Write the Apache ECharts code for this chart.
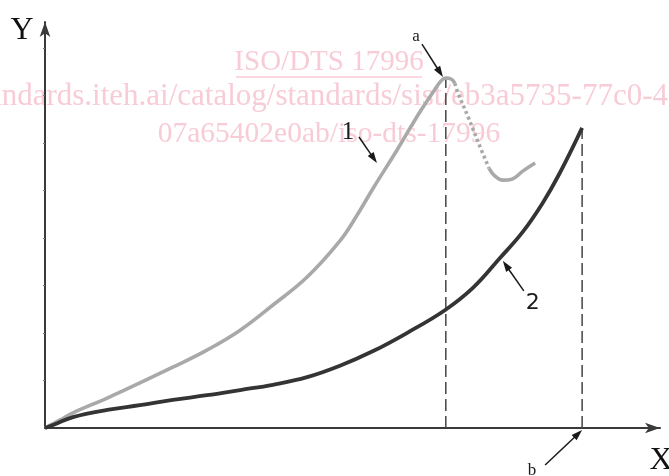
<!DOCTYPE html>
<html>
<head>
<meta charset="utf-8">
<script src="https://cdn.jsdelivr.net/npm/echarts@6/dist/echarts.min.js"></script>
<style>
  html, body { margin: 0; padding: 0; background: #ffffff; }
  #chart { width: 669px; height: 476px; }
</style>
</head>
<body>
<div id="chart"></div>
<script>
// Curve 1: rises to a peak, drops (dotted), then recovers slightly
const curve1Rise = [[0, 0], [0.32, 0.17], [0.59, 0.32], [1.31, 0.63], [2.00, 0.95], [2.69, 1.28],
  [3.41, 1.64], [4.11, 2.06], [4.80, 2.59], [5.52, 3.18], [6.21, 3.94], [6.57, 4.48], [6.91, 5.05],
  [7.41, 5.85], [7.89, 6.65], [8.17, 7.07], [8.34, 7.31], [8.44, 7.37], [8.55, 7.35], [8.63, 7.26]];
const curve1Drop = [[8.63, 7.26], [8.69, 7.07], [8.91, 6.55], [9.12, 6.02], [9.35, 5.47]];
const curve1Tail = [[9.35, 5.47], [9.47, 5.31], [9.64, 5.22], [9.83, 5.24], [10.06, 5.41], [10.32, 5.58]];

// Curve 2: slow start, steep finish
const curve2 = [[0, 0], [0.21, 0.08], [0.59, 0.23], [1.31, 0.38], [2.00, 0.48], [2.69, 0.59],
  [3.41, 0.69], [4.11, 0.80], [4.80, 0.91], [5.52, 1.07], [6.21, 1.31], [6.91, 1.62], [7.62, 2.00],
  [8.42, 2.48], [9.01, 2.95], [9.58, 3.58], [10.06, 4.13], [10.48, 4.74], [10.84, 5.37], [11.31, 6.32]];

const yTicks = [1, 2, 3, 4, 5, 6, 7, 8];
const xMax = 12.95;
const yMax = 8.55;

// Pointer tips in data units; tail and label offsets in pixels
const pointers = [
  { text: 'a', tip: [8.38, 7.39], tail: [-21, -33], label: [-27, -41], font: 'Liberation Serif', size: 17 },
  { text: '1', tip: [6.99, 5.58], tail: [-18, -26], label: [-29, -31], font: 'Liberation Serif', size: 25 },
  { text: '2', tip: [9.64, 3.52], tail: [21, 30], label: [30, 42], font: 'DejaVu Sans', size: 22 },
  { text: 'b', tip: [11.31, 0], tail: [-37, 35], label: [-50, 41], font: 'Liberation Serif', size: 17, dy: 2 }
];

const peak = curve1Rise.reduce((m, p) => (p[1] > m[1] ? p : m), curve1Rise[0]);
const curve2End = curve2[curve2.length - 1];

const AXIS = '#3a3a3a';
const LIGHT = '#a9a9a9';
const DARK = '#343434';

const chart = echarts.init(document.getElementById('chart'), null, { renderer: 'canvas' });

const curveSeries = (data, color, width, dash, z) => ({
  type: 'line', data: data, symbol: 'none', smooth: 0.4, z: z,
  lineStyle: { color: color, width: width, type: dash || 'solid', cap: 'butt' }
});

const option = {
  animation: false,
  backgroundColor: '#ffffff',
  grid: { left: 45, right: 9, top: 22, bottom: 48, containLabel: false },
  xAxis: {
    type: 'value', min: 0, max: xMax,
    axisLine: { show: true, onZero: false, symbol: ['none', 'arrow'], symbolSize: [8, 15],
      lineStyle: { color: AXIS, width: 2 } },
    axisTick: { show: false }, axisLabel: { show: false }, splitLine: { show: false }
  },
  yAxis: {
    type: 'value', min: 0, max: yMax,
    axisLine: { show: true, onZero: false, symbol: ['none', 'arrow'], symbolSize: [8, 15],
      lineStyle: { color: AXIS, width: 2 } },
    axisTick: { show: true, customValues: yTicks, length: 2, lineStyle: { color: '#777', width: 1 } },
    axisLabel: { show: false }, splitLine: { show: false }
  },
  series: [
    {
      type: 'line', data: [[peak[0], 0], [peak[0], peak[1]]], symbol: 'none', z: 1,
      lineStyle: { color: '#444', width: 1.5, type: [12, 5] }
    },
    {
      type: 'line', data: [[curve2End[0], 0], [curve2End[0], curve2End[1]]], symbol: 'none', z: 1,
      lineStyle: { color: '#444', width: 1.5, type: [12, 5] }
    },
    curveSeries(curve1Rise, LIGHT, 3.6, null, 3),
    curveSeries(curve1Drop, LIGHT, 3.6, [3, 3], 3),
    curveSeries(curve1Tail, LIGHT, 3.6, null, 3),
    curveSeries(curve2, DARK, 3.8, null, 4)
  ],
  graphic: []
};

chart.setOption(option);

// Background watermark text
const WM = '#f8ccd7';
const graphics = [
  { type: 'text', z: -10, style: { text: 'ISO/DTS 17996', x: 329, y: 62, fill: WM,
      font: '29px "Liberation Serif"', align: 'center', verticalAlign: 'middle' } },
  { type: 'line', z: -10, shape: { x1: 236, y1: 77, x2: 422, y2: 77 }, style: { stroke: WM, lineWidth: 1.5 } },
  { type: 'text', z: -10, style: { text: 'standards.iteh.ai/catalog/standards/sist/eb3a5735-77c0-4', x: 668, y: 97, fill: WM,
      font: '31px "Liberation Serif"', align: 'right', verticalAlign: 'middle' } },
  { type: 'text', z: -10, style: { text: '07a65402e0ab/iso-dts-17996', x: 329, y: 134, fill: WM,
      font: '29.5px "Liberation Serif"', align: 'center', verticalAlign: 'middle' } },
  // Axis names
  { type: 'text', z: 10, style: { text: 'Y', x: 22, y: 31, fill: '#111',
      font: '32px "Liberation Serif"', align: 'center', verticalAlign: 'middle' } },
  { type: 'text', z: 10, style: { text: 'X', x: 661, y: 461, fill: '#111',
      font: '32px "Liberation Serif"', align: 'center', verticalAlign: 'middle' } }
];

// Pointer arrows with their labels
pointers.forEach(function (p) {
  const t = chart.convertToPixel({ gridIndex: 0 }, p.tip);
  const tip = [t[0], t[1] + (p.dy || 0)];
  const tail = [tip[0] + p.tail[0], tip[1] + p.tail[1]];
  const dx = tip[0] - tail[0], dy = tip[1] - tail[1];
  const len = Math.sqrt(dx * dx + dy * dy);
  const ux = dx / len, uy = dy / len;
  const headLen = 11, headW = 3.6;
  const base = [tip[0] - ux * headLen, tip[1] - uy * headLen];
  graphics.push({ type: 'line', z: 10,
    shape: { x1: tail[0], y1: tail[1], x2: base[0] + ux * 2, y2: base[1] + uy * 2 },
    style: { stroke: '#1a1a1a', lineWidth: 1.5 } });
  graphics.push({ type: 'polygon', z: 10,
    shape: { points: [tip, [base[0] - uy * headW, base[1] + ux * headW], [base[0] + uy * headW, base[1] - ux * headW]] },
    style: { fill: '#1a1a1a' } });
  graphics.push({ type: 'text', z: 10,
    style: { text: p.text, x: tip[0] + p.label[0], y: tip[1] + p.label[1], fill: '#1a1a1a',
      font: p.size + 'px "' + p.font + '"', align: 'center', verticalAlign: 'middle' } });
});

chart.setOption({ graphic: graphics });
</script>
</body>
</html>
